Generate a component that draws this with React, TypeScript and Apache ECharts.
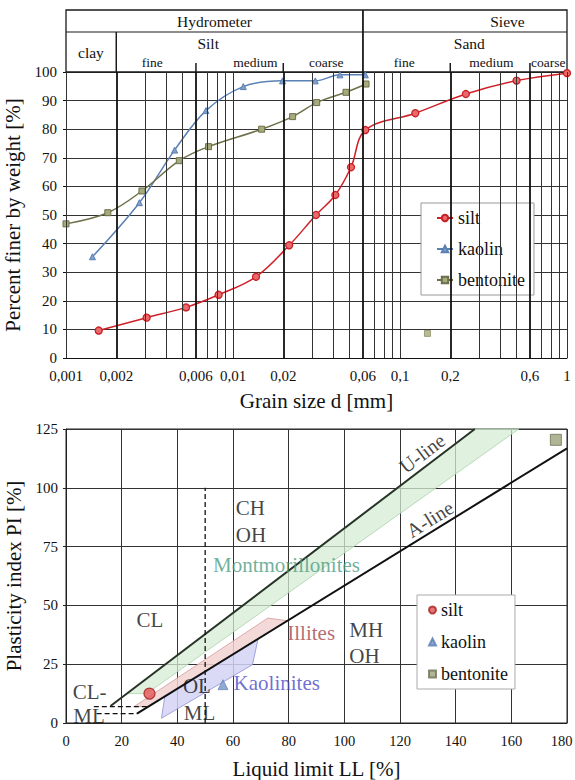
import React, { useEffect, useRef } from 'react';
import * as echarts from 'echarts';

const FONT = 'Liberation Serif, Times New Roman, serif';

// ---------- Top chart: grain size distribution (d [mm], percent finer) ----------
const siltGrain: number[][] = [
  [0.00157, 9.6], [0.00304, 14.1], [0.00523, 17.7], [0.0082, 22.1], [0.01374, 28.4],
  [0.0217, 39.4], [0.0314, 50], [0.041, 57], [0.0509, 66.7], [0.062, 79.7],
  [0.1235, 85.6], [0.248, 92.3], [0.499, 97], [1.0, 99.6],
];
const kaolinGrain: number[][] = [
  [0.00144, 35.4], [0.00275, 54.3], [0.00447, 72.7], [0.00689, 86.5], [0.01153, 94.9],
  [0.0198, 96.9], [0.0311, 96.9], [0.0437, 99], [0.062, 99],
];
const bentoniteGrain: number[][] = [
  [0.001, 46.9], [0.00178, 50.8], [0.00285, 58.4], [0.00477, 69], [0.00714, 73.9],
  [0.01484, 80], [0.02275, 84.4], [0.0317, 89.3], [0.0475, 92.9], [0.0626, 95.8],
];
const bentoniteStray: number[][] = [[0.146, 8.6]];

const gridD = [
  0.001, 0.002, 0.003, 0.004, 0.005, 0.006, 0.007, 0.008, 0.009,
  0.01, 0.02, 0.03, 0.04, 0.05, 0.06, 0.07, 0.08, 0.09,
  0.1, 0.2, 0.3, 0.4, 0.5, 0.6, 0.7, 0.8, 0.9, 1,
];
const dTickValues = [0.001, 0.002, 0.006, 0.01, 0.02, 0.06, 0.1, 0.2, 0.6, 1];
const dTickLabels = ['0,001', '0,002', '0,006', '0,01', '0,02', '0,06', '0,1', '0,2', '0,6', '1'];
const fractionBounds = [0.002, 0.006, 0.02, 0.06, 0.2, 0.6];

// header labels: [text, d position]
const headerTop = [['Hydrometer', 0.00775], ['Sieve', 0.44]];
const headerMid = [['clay', 0.00141], ['Silt', 0.0071], ['Sand', 0.26]];
const headerSub = [
  ['fine', 0.00329], ['medium', 0.0136], ['coarse', 0.0362],
  ['fine', 0.106], ['medium', 0.352], ['coarse', 0.772],
];

// ---------- Bottom chart: plasticity chart (LL, PI) ----------
const uLine = [[16, 7.2], [146.9, 125]];
const aLine = [[25.5, 4], [180, 116.8]];
const clmlUpper = [[10, 7], [29.6, 7]];
const clmlLower = [[11, 4], [25.5, 4]];
const llFifty = [[50, 0], [50, 100]];
const montmorilloniteZone = [[21.9, 12.5], [146.9, 125], [162.7, 125], [29, 12.5]];
const illiteZone = [[24.5, 7], [72.5, 44.6], [79.5, 43.5], [29.6, 7]];
const kaoliniteZone = [[34.3, 2], [35.5, 11.3], [69, 35.7], [67, 24.8]];
const siltPI = [[30, 12.5]];
const kaolinPI = [[56.4, 16.3]];
const bentonitePI = [[176, 120.4]];

const zoneLabels = [
  ['CH', 61, 91.4], ['OH', 61, 80], ['CL', 25.3, 44], ['CL-', 2.4, 13], ['ML', 2.6, 2.8],
  ['OL', 42, 15.6], ['ML', 42.3, 4.3], ['MH', 101.8, 39.7], ['OH', 101.8, 28.3],
];
const mineralLabels = [
  ['Montmorillonites', 52.8, 67.3, '#4b9c82'],
  ['Illites', 79.5, 38.2, '#a5464a'],
  ['Kaolinites', 60.2, 17, '#4a4ac6'],
];
const lineLabels = [['U-line', 128, 114.7, 37], ['A-line', 130.7, 86.7, 31.6]];

function polySeries(points: number[][], fill: string, stroke: string) {
  return {
    type: 'custom',
    xAxisIndex: 1,
    yAxisIndex: 1,
    silent: true,
    z: 1,
    data: [[0, 0]],
    renderItem: (_p: any, api: any) => ({
      type: 'polygon',
      shape: { points: points.map((p) => api.coord(p)) },
      style: { fill, stroke, lineWidth: 0.8 },
    }),
  };
}

function buildOption(): any {
  const axisName = { fontSize: 21, fontFamily: FONT, color: '#111' };
  const tickLbl = { fontSize: 15, fontFamily: FONT, color: '#111' };
  const txt = { fontFamily: FONT, color: '#111' };

  const gridMarks = gridD.map((v) => {
    const idx = dTickValues.indexOf(v);
    const major = fractionBounds.indexOf(v) >= 0;
    return {
      xAxis: v,
      lineStyle: { color: major ? '#111' : '#333', width: major ? 1.8 : 1, type: 'solid' },
      label: idx >= 0
        ? { show: true, formatter: dTickLabels[idx], position: 'start', distance: 10, ...tickLbl }
        : { show: false },
    };
  });

  const labelCarrier = {
    type: 'scatter', xAxisIndex: 1, yAxisIndex: 1, silent: true, z: 6, symbolSize: 1,
    itemStyle: { color: 'rgba(0,0,0,0)' },
  };

  return {
    animation: false,
    backgroundColor: '#fff',
    textStyle: { fontFamily: FONT },
    grid: [
      { left: 66, top: 72, width: 501, height: 286, outerBoundsMode: 'none', containLabel: false },
      {
        left: 66, top: 429, width: 501, height: 294, show: true, borderColor: '#222', borderWidth: 1,
        outerBoundsMode: 'none', containLabel: false,
      },
    ],
    xAxis: [
      {
        gridIndex: 0, type: 'log', logBase: 10, min: 0.001, max: 1,
        name: 'Grain size d [mm]', nameLocation: 'middle', nameGap: 32, nameTextStyle: axisName,
        axisLine: { show: true, lineStyle: { color: '#111', width: 1 } },
        axisTick: { show: false }, axisLabel: { show: false }, splitLine: { show: false },
      },
      {
        gridIndex: 1, type: 'value', min: 0, max: 180, interval: 20,
        name: 'Liquid limit LL [%]', nameLocation: 'middle', nameGap: 35, nameTextStyle: axisName,
        axisLine: { show: true, lineStyle: { color: '#222' } },
        axisTick: { show: false },
        axisLabel: {
          margin: 10, ...tickLbl, fontSize: 14.5,
          formatter: (v: number) => (v === 180 ? '{e|180}' : String(v)),
          rich: { e: { fontSize: 14.5, fontFamily: FONT, color: '#111', padding: [0, 11, 0, 0] } },
        },
        splitLine: { show: true, lineStyle: { color: '#333', width: 1 } },
      },
    ],
    yAxis: [
      {
        gridIndex: 0, type: 'value', min: 0, max: 100, interval: 10,
        name: 'Percent finer by weight [%]', nameLocation: 'middle', nameGap: 34, nameTextStyle: axisName,
        axisLine: { show: true, lineStyle: { color: '#111' } },
        axisTick: { show: true, length: 3, lineStyle: { color: '#111' } },
        axisLabel: { margin: 9, ...tickLbl },
        splitLine: { show: true, lineStyle: { color: '#333', width: 1.1 } },
      },
      {
        gridIndex: 1, type: 'value', min: 0, max: 125, interval: 25,
        name: 'Plasticity index PI [%]', nameLocation: 'middle', nameGap: 34, nameTextStyle: axisName,
        axisLine: { show: true, lineStyle: { color: '#222' } },
        axisTick: { show: true, length: 3, lineStyle: { color: '#222' } },
        axisLabel: { margin: 8, ...tickLbl },
        splitLine: { show: true, lineStyle: { color: '#333', width: 1 } },
      },
    ],
    legend: [
      {
        data: ['silt', 'kaolin', 'bentonite'],
        orient: 'vertical', left: 421, top: 203,
        itemWidth: 16, itemHeight: 8, itemGap: 13,
        padding: [6, 9, 6, 15],
        backgroundColor: '#fff', borderColor: '#999', borderWidth: 1,
        textStyle: { fontSize: 18, fontFamily: FONT, color: '#111' },
      },
      {
        data: ['silt ', 'kaolin ', 'bentonite '],
        formatter: (n: string) => n.trim(),
        orient: 'vertical', left: 417, top: 595,
        itemWidth: 7, itemHeight: 7, itemGap: 14,
        padding: [6, 7, 6, 11],
        backgroundColor: '#fff', borderColor: '#aaa', borderWidth: 1,
        textStyle: { fontSize: 18, fontFamily: FONT, color: '#111' },
      },
    ],
    series: [
      {
        type: 'line', xAxisIndex: 0, yAxisIndex: 0, data: [[1, 0]], symbol: 'none',
        lineStyle: { opacity: 0 }, silent: true, z: 1,
        markLine: { silent: true, precision: 6, symbol: ['none', 'none'], animation: false, data: gridMarks },
      },
      {
        name: 'silt', type: 'line', xAxisIndex: 0, yAxisIndex: 0, data: siltGrain, smooth: 0.35,
        symbol: 'circle', symbolSize: 7, showAllSymbol: true, z: 4,
        lineStyle: { color: '#cf2027', width: 1.5 },
        itemStyle: { color: '#e86a6a', borderColor: '#c81e25', borderWidth: 1.3 },
      },
      {
        name: 'kaolin', type: 'line', xAxisIndex: 0, yAxisIndex: 0, data: kaolinGrain, smooth: 0.35,
        symbol: 'triangle', symbolSize: 6, showAllSymbol: true, z: 4,
        lineStyle: { color: '#5b80b4', width: 1.5 },
        itemStyle: { color: '#7f9fcb', borderColor: '#5b80b4', borderWidth: 1 },
      },
      {
        name: 'bentonite', type: 'line', xAxisIndex: 0, yAxisIndex: 0, data: bentoniteGrain, smooth: 0.35,
        symbol: 'rect', symbolSize: 6, showAllSymbol: true, z: 4,
        lineStyle: { color: '#6d7048', width: 1.5 },
        itemStyle: { color: '#a6aa7c', borderColor: '#6d7048', borderWidth: 1 },
      },
      {
        name: 'bentonite', type: 'scatter', xAxisIndex: 0, yAxisIndex: 0, data: bentoniteStray,
        symbol: 'rect', symbolSize: 6, z: 4,
        itemStyle: { color: '#a6aa7c', borderColor: '#8a8e60', borderWidth: 1 },
      },
      // plasticity chart
      polySeries(montmorilloniteZone, 'rgba(214,236,214,0.75)', '#a9d2a9'),
      polySeries(illiteZone, 'rgba(242,210,210,0.85)', '#d39a9a'),
      polySeries(kaoliniteZone, 'rgba(212,212,246,0.85)', '#8e8ed8'),
      {
        type: 'line', xAxisIndex: 1, yAxisIndex: 1, data: uLine, symbol: 'none', silent: true, z: 3,
        lineStyle: { color: '#263326', width: 2 },
      },
      {
        type: 'line', xAxisIndex: 1, yAxisIndex: 1, data: aLine, symbol: 'none', silent: true, z: 3,
        lineStyle: { color: '#111', width: 2 },
      },
      ...[clmlUpper, clmlLower, llFifty].map((d) => ({
        type: 'line', xAxisIndex: 1, yAxisIndex: 1, data: d, symbol: 'none', silent: true, z: 3,
        lineStyle: { color: '#111', width: 1.3, type: [5, 3] },
      })),
      {
        name: 'silt ', type: 'scatter', xAxisIndex: 1, yAxisIndex: 1, data: siltPI, z: 5,
        symbol: 'circle', symbolSize: 11,
        itemStyle: { color: '#e05555', borderColor: '#a82020', borderWidth: 1.2 },
      },
      {
        name: 'kaolin ', type: 'scatter', xAxisIndex: 1, yAxisIndex: 1, data: kaolinPI, z: 5,
        symbol: 'triangle', symbolSize: 10,
        itemStyle: { color: '#7394c4', borderColor: '#5a7cb0', borderWidth: 0.8 },
      },
      {
        name: 'bentonite ', type: 'scatter', xAxisIndex: 1, yAxisIndex: 1, data: bentonitePI, z: 5,
        symbol: 'rect', symbolSize: 11,
        itemStyle: { color: '#9ca27a', borderColor: '#6e7256', borderWidth: 1 },
      },
      {
        ...labelCarrier,
        data: zoneLabels.map((l) => ({ value: [l[1], l[2]], label: { formatter: l[0] } })),
        label: { show: true, position: 'inside', align: 'left', verticalAlign: 'middle', fontSize: 21, ...txt },
      },
      {
        ...labelCarrier,
        data: mineralLabels.map((l) => ({ value: [l[1], l[2]], label: { formatter: l[0], color: l[3] } })),
        label: { show: true, position: 'inside', align: 'left', verticalAlign: 'middle', fontSize: 21, fontFamily: FONT },
      },
      {
        ...labelCarrier,
        data: lineLabels.map((l) => ({ value: [l[1], l[2]], label: { formatter: l[0], rotate: l[3] } })),
        label: { show: true, position: 'inside', align: 'center', verticalAlign: 'middle', fontSize: 20, ...txt },
      },
    ],
  };
}

export default function App() {
  const ref = useRef<HTMLDivElement>(null);
  useEffect(() => {
    const el = ref.current;
    if (!el) return;
    const chart = echarts.init(el, null, { renderer: 'svg' });
    chart.setOption(buildOption());

    const px = (d: number) => chart.convertToPixel({ xAxisIndex: 0 }, d) as number;
    const yTop = 10, yMid = 32, yBot = 72;
    const x0 = px(0.001), x1 = px(1);
    const stroke = '#1a1a1a';
    const g: any[] = [
      { type: 'rect', shape: { x: x0, y: yTop, width: x1 - x0, height: yBot - yTop }, style: { fill: 'none', stroke, lineWidth: 1.3 }, silent: true },
      { type: 'line', shape: { x1: x0, y1: yMid, x2: x1, y2: yMid }, style: { stroke, lineWidth: 1.2 }, silent: true },
      { type: 'line', shape: { x1: px(0.06), y1: yTop, x2: px(0.06), y2: yBot }, style: { stroke, lineWidth: 1.8 }, silent: true },
      { type: 'line', shape: { x1: px(0.002), y1: yMid, x2: px(0.002), y2: yBot }, style: { stroke, lineWidth: 1.5 }, silent: true },
    ];
    [0.006, 0.02, 0.2, 0.6].forEach((d) => {
      g.push({ type: 'line', shape: { x1: px(d), y1: 63, x2: px(d), y2: yBot }, style: { stroke, lineWidth: 1.5 }, silent: true });
    });
    const addText = (t: string, d: number, y: number, size: number) => {
      g.push({
        type: 'text', x: px(d), y, silent: true,
        style: { text: t, fontSize: size, fontFamily: FONT, fill: '#111', align: 'center', verticalAlign: 'middle' },
      });
    };
    headerTop.forEach((h) => addText(h[0] as string, h[1] as number, 21, 15.5));
    headerMid.forEach((h) => addText(h[0] as string, h[1] as number, h[0] === 'clay' ? 52 : 43, 15.5));
    headerSub.forEach((h) => addText(h[0] as string, h[1] as number, 62, 13.5));
    chart.setOption({ graphic: g });

    return () => chart.dispose();
  }, []);
  return (
    <div
      ref={ref}
      style={{ position: 'fixed', left: 0, top: 0, width: 575, height: 780, background: '#fff' }}
    />
  );
}
